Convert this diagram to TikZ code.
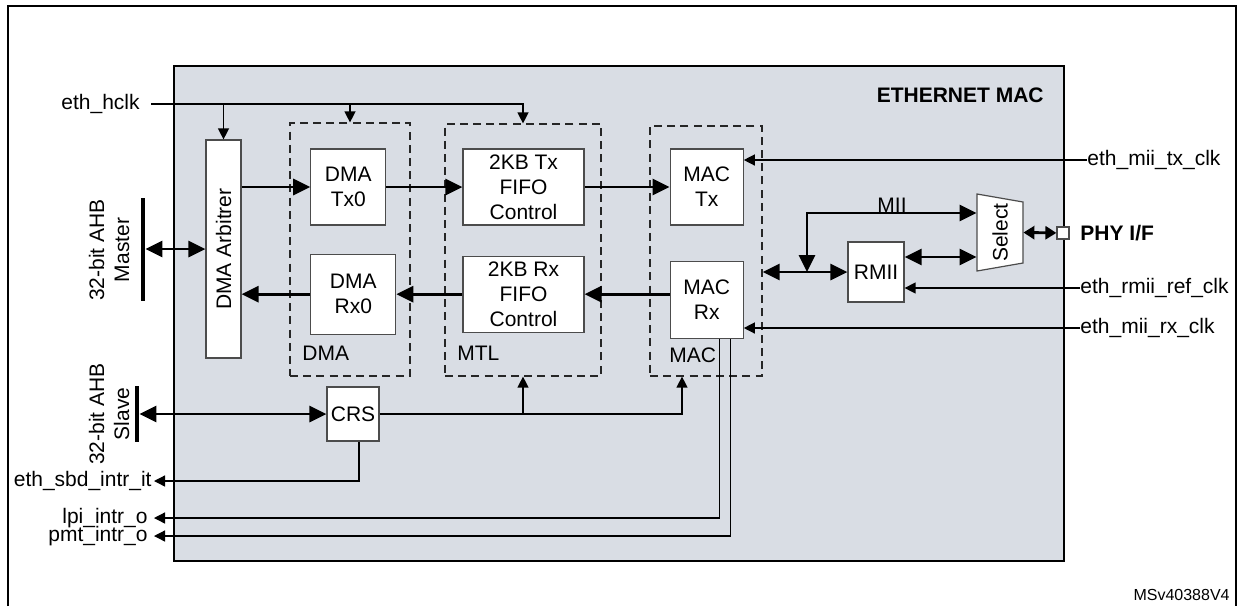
\documentclass[tikz,border=0pt]{standalone}
\usepackage{fontspec}
\setmainfont{Liberation Sans}
\usepackage{graphicx}
\usepackage{tikz}
\usetikzlibrary{positioning, arrows.meta}
\definecolor{macgray}{RGB}{217,221,228}
\tikzset{
  sz/.style 2 args={minimum width={#1*0.5pt}, minimum height={#2*0.5pt}},
  mblk/.style={draw=black!70, fill=white, line width=0.6pt, align=center, inner sep=0pt},
  mgrp/.style={draw=black!85, dash pattern=on 4pt off 2.6pt, line width=0.6pt, inner sep=0pt},
  mlbl/.style={inner sep=0pt, anchor=west},
  mbar/.style={fill=black, inner sep=0pt, minimum width=2pt},
  mbus/.style={line width=1.45pt, -{Triangle[length=8.5pt, width=8pt]}},
  mdbus/.style={mbus, {Triangle[length=8.5pt, width=8pt]}-{Triangle[length=8.5pt, width=8pt]}},
  msig/.style={line width=0.65pt, -{Triangle[length=5.5pt, width=5.5pt]}},
}

\begin{document}
\begin{tikzpicture}[x=0.5pt, y=-0.5pt, font=\fontsize{10.5}{12.5}\selectfont]
  \useasboundingbox (0,0) rectangle (1240,606);
  \draw[line width=1.3pt] (8,606) -- (8,6) -- (1236,6) -- (1236,606);

  \node[sz={890}{495}, fill=macgray, draw, line width=1.3pt] (emac) at (619,313.5) {};
  \node[anchor=east, inner sep=0pt] (emaclab) at (1044,95) {\textbf{ETHERNET MAC}};

  % groups
  \node[mgrp, sz={120}{253}] (dma) at (350,249.5) {};
  \node[mgrp, sz={156}{252}] (mtl) at (523,250) {};
  \node[mgrp, sz={112}{250}] (mac) at (706,251) {};
  \node[mlbl] (dmalab) at (302,353) {DMA};
  \node[mlbl] (mtllab) at (457,353) {MTL};
  \node[mlbl] (maclab) at (669,355) {MAC};

  % blocks
  \node[mblk, sz={35}{218}] (arb) at (223.5,249) {\rotatebox{90}{DMA Arbitrer}};
  \node[mblk, sz={121}{76}] (txfifo) at (523.5,187) {2KB Tx\\FIFO\\Control};
  \node[mblk, sz={121}{76}, below=15pt of txfifo] (rxfifo) {2KB Rx\\FIFO\\Control};
  \node[mblk, sz={75}{76}, left=38pt of txfifo] (dmatx) {DMA\\Tx0};
  \node[mblk, sz={85}{80}, left=33pt of rxfifo] (dmarx) {DMA\\Rx0};
  \node[mblk, sz={73}{76}, right=42.5pt of txfifo] (mactx) {MAC\\Tx};
  \node[mblk, sz={73}{77}, below=17.5pt of mactx] (macrx) {MAC\\Rx};
  \node[mblk, sz={52}{54}] (crs) at (353,414) {CRS};
  \node[mblk, sz={56}{60}] (rmii) at (876,272) {RMII};
  \draw[mblk] (977,194) -- (1023,202) -- (1023,263) -- (977,271) -- cycle;
  \node[sz={46}{77}, inner sep=0pt] (sel) at (1000,232.5) {\rotatebox{90}{Select}};
  \node[mblk, sz={12}{12}] (phy) at (1063,233) {};
  \node[anchor=west, inner sep=0pt] (phylab) at (1080,233) {\textbf{PHY I/F}};
  \node[anchor=base, inner sep=0pt] (miilab) at (892,212) {MII};

  % AHB buses
  \node[mbar, minimum height=51.5pt] (mbar) at (143,249) {};
  \node[mbar, minimum height=28pt] (sbar) at (137,414) {};
  \node[rotate=90, align=center, inner sep=0pt] (mlab) at (109,250) {32-bit AHB\\Master};
  \node[rotate=90, align=center, inner sep=0pt] (slab) at (109,414) {32-bit AHB\\Slave};

  % signals
  \node[anchor=east, inner xsep=5.5pt, inner ysep=0pt] (hclk) at (151,104) {eth\_hclk};
  \node[anchor=east, inner xsep=1pt, inner ysep=0pt] (sbd) at (154,481) {eth\_sbd\_intr\_it};
  \node[anchor=east, inner xsep=3pt, inner ysep=0pt] (lpi) at (154,518) {lpi\_intr\_o};
  \node[anchor=east, inner xsep=3pt, inner ysep=0pt] (pmt) at (154,536) {pmt\_intr\_o};
  \node[anchor=west, inner sep=0pt] (txclk) at (1087,160) {eth\_mii\_tx\_clk};
  \node[anchor=west, inner sep=0pt] (refclk) at (1080,288) {eth\_rmii\_ref\_clk};
  \node[anchor=west, inner sep=0pt] (rxclk) at (1080,328) {eth\_mii\_rx\_clk};
  \node[anchor=east, inner sep=0pt, font=\fontsize{8}{9.6}\selectfont] (ref) at (1230,595) {MSv40388V4};

  \draw[msig] (hclk.east) -| (mtl.north);
  \draw[msig] (arb.north |- hclk.east) -- (arb.north);
  \draw[msig] (dma.north |- hclk.east) -- (dma.north);

  \draw[mbus] (arb.east |- dmatx) -- (dmatx);
  \draw[mbus] (dmatx) -- (txfifo);
  \draw[mbus] (txfifo) -- (mactx);
  \draw[mbus] (macrx.west |- rxfifo) -- (rxfifo);
  \draw[mbus] (rxfifo) -- (dmarx);
  \draw[mbus] (dmarx) -- (arb.east |- dmarx);
  \draw[mdbus] (mbar) -- (arb);
  \draw[mdbus] (sbar) -- (crs);

  \coordinate (miitap) at (807,272);
  \draw[mdbus] (mac.east |- rmii) -- (rmii);
  \draw[mdbus] (miitap) |- (sel.west |- 0,213);
  \draw[mdbus] (rmii.east |- 0,257) -- (sel.west |- 0,257);
  \draw[mdbus, {Triangle[length=5.5pt, width=6.5pt]}-{Triangle[length=5.5pt, width=6.5pt]}] (sel.east) -- (phy);

  \draw[msig] (txclk.west) -- (mactx.east |- txclk.west);
  \draw[msig] (refclk.west) -- (rmii.east |- refclk.west);
  \draw[msig] (rxclk.west) -- (macrx.east |- rxclk.west);

  \draw[msig] (crs.east) -| ([xshift=-12pt]mac.south);
  \draw[msig] (mtl.south |- crs.east) -- (mtl.south);
  \draw[msig] ([xshift=3pt]crs.south) |- (sbd.east);
  \draw[msig] ([xshift=6.25pt]macrx.south) |- (lpi.east);
  \draw[msig] ([xshift=11.75pt]macrx.south) |- (pmt.east);
\end{tikzpicture}
\end{document}
